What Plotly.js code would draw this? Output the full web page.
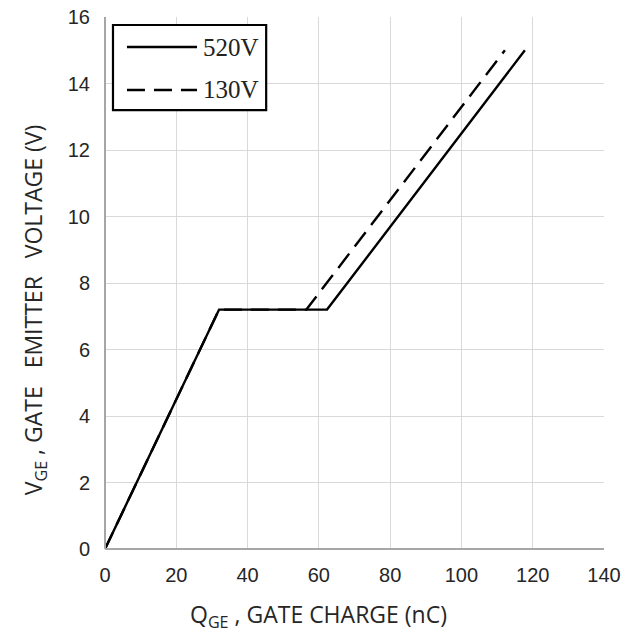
<!DOCTYPE html>
<html><head><meta charset="utf-8">
<script src="https://cdn.plot.ly/plotly-3.0.1.min.js"></script>
<style>body{margin:0;background:#fff}#c{width:639px;height:637px}</style>
</head><body><div id="c"></div>
<script>
const q520 = [0, 32, 62.3, 117.8];
const v520 = [0, 7.2, 7.2, 15.0];
const q130 = [0, 32, 56.5, 112.2];
const v130 = [0, 7.2, 7.2, 15.0];
const legendNames = ['520V', '130V'];
const xTicks = [0, 20, 40, 60, 80, 100, 120, 140];
const yTicks = [0, 2, 4, 6, 8, 10, 12, 14, 16];
const xTitle = 'Q<sub>GE</sub> , GATE CHARGE (nC)';
const yTitle = 'V<sub>GE</sub> , GATE\u00a0\u00a0 EMITTER\u00a0\u00a0 VOLTAGE (V)';

const DASH = '18px,9px';
const traces = [
  {x: q130, y: v130, mode: 'lines', name: legendNames[1], line: {color: '#000', width: 2.4, dash: DASH}},
  {x: q520, y: v520, mode: 'lines', name: legendNames[0], line: {color: '#000', width: 2.4}}
];
const tickFont = {family: 'Liberation Sans, Arial, sans-serif', size: 20, color: '#262626'};
const titleFont = {family: 'Open Sans, Noto Sans, sans-serif', size: 23, color: '#262626'};
const legFont = {family: 'Liberation Serif, serif', size: 25, color: '#222'};
const layout = {
  width: 639, height: 637,
  margin: {l: 105, r: 35, t: 17, b: 88},
  paper_bgcolor: '#fff', plot_bgcolor: '#fff',
  showlegend: false,
  xaxis: {range: [0, 140], tickvals: xTicks, ticktext: xTicks.map(String), showgrid: true, gridcolor: '#d9d9d9', gridwidth: 1,
    zeroline: false, showline: false, tickfont: tickFont, ticks: '', ticklabelstandoff: 12, automargin: false},
  yaxis: {range: [0, 16], tickvals: yTicks, ticktext: yTicks.map(String), showgrid: true, gridcolor: '#d9d9d9', gridwidth: 1,
    zeroline: false, showline: false, tickfont: tickFont, ticks: '', ticklabelstandoff: 14, automargin: false},
  shapes: [
    {type: 'line', xref: 'paper', yref: 'paper', x0: 0, x1: 0, y0: 0, y1: 1, line: {color: '#a6a6a6', width: 2}},
    {type: 'line', xref: 'paper', yref: 'paper', x0: 0, x1: 1, y0: 0, y1: 0, line: {color: '#a6a6a6', width: 2}},
    {type: 'rect', xref: 'paper', yref: 'paper', x0: 0.016, x1: 0.323, y0: 0.825, y1: 0.985, line: {color: '#000', width: 2.2}, fillcolor: '#fff', layer: 'above'},
    {type: 'line', xref: 'paper', yref: 'paper', x0: 0.044, x1: 0.1844, y0: 0.9436, y1: 0.9436, line: {color: '#000', width: 2.6}},
    {type: 'line', xref: 'paper', yref: 'paper', x0: 0.044, x1: 0.1844, y0: 0.8628, y1: 0.8628, line: {color: '#000', width: 2.6, dash: DASH}}
  ],
  annotations: [
    {xref: 'paper', yref: 'paper', x: 0.192, y: 0.9436, xanchor: 'left', yanchor: 'middle', showarrow: false, text: legendNames[0], font: legFont},
    {xref: 'paper', yref: 'paper', x: 0.192, y: 0.8628, xanchor: 'left', yanchor: 'middle', showarrow: false, text: legendNames[1], font: legFont},
    {xref: 'paper', yref: 'paper', x: 0.427, y: -0.125, xanchor: 'center', yanchor: 'middle', showarrow: false, text: xTitle, font: titleFont},
    {xref: 'paper', yref: 'paper', x: -0.142, y: 0.449, xanchor: 'center', yanchor: 'middle', showarrow: false, textangle: -90, text: yTitle, font: titleFont}
  ]
};
Plotly.newPlot('c', traces, layout, {staticPlot: true});
</script></body></html>
